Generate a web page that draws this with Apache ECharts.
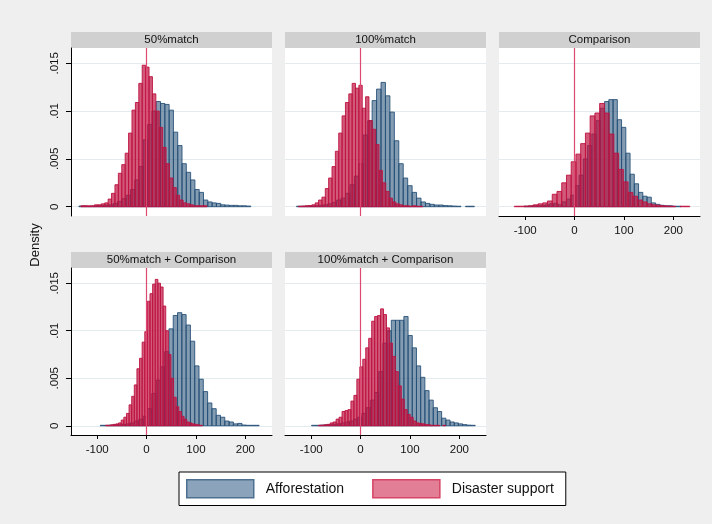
<!DOCTYPE html>
<html><head><meta charset="utf-8">
<script src="https://cdn.jsdelivr.net/npm/echarts@6/dist/echarts.min.js"></script>
<style>html,body{margin:0;padding:0;background:#efefef}#c{width:712px;height:524px}</style>
</head><body><div id="c"></div>
<script>
// ---------- data ----------
const panelTitles = ['50%match', '100%match', 'Comparison', '50%match + Comparison', '100%match + Comparison'];
const seriesNames = ['Afforestation', 'Disaster support'];
const xTickValues = [-100, 0, 100, 200];
const yTickValues = [0, 0.005, 0.01, 0.015];
const refLineX = 0;

// Afforestation histograms: first bin start, bin width, densities
const affStart = [-137, -129.6, -102.6, -93.9, -99.3];
const affWidth = [8.7, 9.0, 8.6, 8.7, 8.5];
const affDensity1 = [0.00007,0.00007,0.00003,0.00007,0.0001,0.00014,0.00017,0.0002,0.00035,0.00056,0.00084,0.0012,0.0018,0.0028,0.0042,0.0070,0.0086,0.0100,0.0110,0.0108,0.0107,0.0101,0.0078,0.0064,0.0045,0.0036,0.0028,0.0018,0.0015,0.0007,0.0005,0.0004,0.00035,0.0002,0.00017,0.00014,0.00014,0.0001,0.0001,0.00007];
const affDensity2 = [0.00005,0.00005,0.00007,0.00007,0.0001,0.00014,0.0002,0.0003,0.00045,0.0007,0.0009,0.0014,0.0023,0.0032,0.0045,0.0075,0.0090,0.0111,0.0123,0.0130,0.0116,0.0099,0.0069,0.0045,0.0030,0.0022,0.0015,0.0009,0.0005,0.00035,0.00025,0.00018,0.00018,0.00012,0.0001,0.00007,0.00005,0,0.00005,0.00005];
const affDensity3 = [0.00005,0.00007,0.0001,0.0001,0.00012,0.0002,0.0003,0.00035,0.0002,0.0005,0.0008,0.0012,0.0022,0.0033,0.0050,0.0064,0.0076,0.0090,0.0103,0.0110,0.0112,0.0112,0.0091,0.0083,0.0056,0.0034,0.0024,0.0015,0.0011,0.0010,0.0004,0.00025,0.00015,0.0001,0.0001,0.00005,0.00005];
const affDensity4 = [0.00005,0.00005,0.00007,0.0001,0.0001,0.00015,0.0002,0.0003,0.0005,0.0007,0.0010,0.0018,0.0034,0.0048,0.0062,0.0078,0.0102,0.0116,0.0119,0.0117,0.0106,0.0089,0.0063,0.0049,0.0036,0.0024,0.0018,0.0011,0.0009,0.0005,0.0004,0.0002,0.00025,0.00008,0.00005,0.00005,0.00005];
const affDensity5 = [0.00005,0.00005,0.00007,0.0001,0.0001,0.00015,0.0002,0.0003,0.0004,0.0005,0.0007,0.0009,0.0013,0.0019,0.0027,0.0035,0.0057,0.0087,0.0100,0.0111,0.0111,0.0111,0.0115,0.0095,0.0082,0.0063,0.0051,0.0037,0.0027,0.0019,0.0015,0.0008,0.0006,0.0004,0.0003,0.0002,0.00012,0.00007,0.00005];

// Disaster support histograms
const disStart = [-133, -125.8, -122, -83.1, -85.5];
const disWidth = [6.9, 6.8, 9.6, 5.3, 6.0];
const disDensity1 = [0.0001,0.0001,0.0001,0.0001,0.0002,0.0002,0.0003,0.0004,0.0008,0.0014,0.0023,0.0035,0.0044,0.0056,0.0077,0.0101,0.0109,0.0129,0.0148,0.0146,0.0136,0.0118,0.0100,0.0083,0.0062,0.0045,0.0030,0.0020,0.0012,0.0007,0.0004,0.0003,0.0002,0.0001,0.0001,0.0001,0.0001];
const disDensity2 = [0.00005,0.00007,0.0001,0.00012,0.0002,0.0004,0.0007,0.001,0.0019,0.0030,0.0042,0.0058,0.0077,0.0095,0.0109,0.0118,0.0129,0.0124,0.0127,0.0103,0.0115,0.0090,0.0081,0.0065,0.0038,0.0025,0.0016,0.0009,0.0005,0.0003,0.0002,0.0001,0.0001,0.00005,0.0001,0.00005,0.00005];
const disDensity3 = [0.00005,0.00005,0.00007,0.0001,0.0002,0.0003,0.0004,0.0006,0.0013,0.0016,0.0025,0.0033,0.0047,0.0055,0.0066,0.0077,0.0095,0.0098,0.0108,0.0098,0.0076,0.0056,0.0039,0.0026,0.0015,0.0011,0.0007,0.0005,0.0003,0.0002,0.00015,0.0001,0.00007,0.00005,0,0.00005,0.00005];
const disDensity4 = [0.00005,0.00005,0.0001,0.00015,0.0002,0.0003,0.0006,0.0009,0.0013,0.0022,0.0031,0.0043,0.0060,0.0071,0.0088,0.0099,0.0131,0.0139,0.0149,0.0154,0.0150,0.0146,0.0126,0.0100,0.0075,0.0050,0.0030,0.0020,0.0015,0.0010,0.0007,0.0004,0.0003,0.0002,0.00015,0.0001,0.00005];
const disDensity5 = [0.00005,0.00007,0.0001,0.00015,0.0003,0.0004,0.0007,0.0009,0.0015,0.0016,0.0017,0.0026,0.0032,0.0049,0.0062,0.0070,0.0082,0.0092,0.0110,0.0115,0.0116,0.0123,0.0117,0.0103,0.0087,0.0073,0.0057,0.0042,0.0028,0.0017,0.0012,0.0009,0.0005,0.0003,0.00025,0.0002,0.00012,0.0001,0.00005,0.00005,0.00005,0,0.00005];

const affDensity = [affDensity1, affDensity2, affDensity3, affDensity4, affDensity5];
const disDensity = [disDensity1, disDensity2, disDensity3, disDensity4, disDensity5];

// ---------- layout / style ----------
const FONT = 'Liberation Sans, Arial, Helvetica, sans-serif';
const colLeft = [71, 285, 499];
const rowTop = [48, 268];
const rowHeight = [168, 167];
const panelWidth = 201;
const panelPos = [[0, 0], [1, 0], [2, 0], [0, 1], [1, 1]]; // [col,row]
const showXAxis = [false, false, true, true, true];
const showYAxis = [true, false, false, true, false];
const X_MIN = -153, X_MAX = 254, Y_MIN = -0.00097, Y_MAX = 0.0166;

const blueFill = 'rgba(35,78,118,0.56)', blueStroke = 'rgba(35,78,118,0.86)';
const redFill = 'rgba(190,18,64,0.70)', redStroke = 'rgba(190,18,64,0.90)';
const legendBlueFill = '#8ca4bb', legendBlueStroke = '#4e7090';
const legendRedFill = '#e27f97', legendRedStroke = '#d64466';

function toBins(start, width, dens) {
  return dens.map((d, i) => [start + i * width, start + (i + 1) * width, d]);
}
function makeRender(fill, stroke) {
  return function (params, api) {
    const h = api.value(2);
    if (!(h > 0)) return null;
    const a = api.coord([api.value(0), 0]);
    const b = api.coord([api.value(1), h]);
    return { type: 'rect', shape: { x: a[0], y: b[1], width: b[0] - a[0], height: a[1] - b[1] },
             style: { fill: fill, stroke: stroke, lineWidth: 1 } };
  };
}

const grids = [], xAxes = [], yAxes = [], series = [], graphics = [];
panelTitles.forEach((title, p) => {
  const [c, r] = panelPos[p];
  const left = colLeft[c], top = rowTop[r], height = rowHeight[r];
  grids.push({ left: left, top: top, width: panelWidth, height: height, show: true,
               backgroundColor: '#ffffff', borderWidth: 0, containLabel: false });
  xAxes.push({
    gridIndex: p, type: 'value', min: X_MIN, max: X_MAX,
    axisLine: { show: showXAxis[p], onZero: false, lineStyle: { color: '#000', width: 1 } },
    axisTick: { show: showXAxis[p], length: 4, customValues: xTickValues, lineStyle: { color: '#000' } },
    axisLabel: { show: showXAxis[p], customValues: xTickValues, color: '#111', fontSize: 11.5, fontFamily: FONT, margin: 9 },
    splitLine: { show: false }
  });
  yAxes.push({
    gridIndex: p, type: 'value', min: Y_MIN, max: Y_MAX,
    axisLine: { show: showYAxis[p], onZero: false, lineStyle: { color: '#000', width: 1 } },
    axisTick: { show: showYAxis[p], length: 5, customValues: yTickValues, lineStyle: { color: '#000' } },
    axisLabel: { show: showYAxis[p], customValues: yTickValues, rotate: 90, color: '#111', fontSize: 11.5,
                 fontFamily: FONT, margin: 10,
                 formatter: v => (v === 0 ? '0' : String(+v.toFixed(4)).replace(/^0/, '')) },
    splitLine: { show: true, lineStyle: { color: '#e3ebee', width: 1 } }
  });
  series.push({
    type: 'custom', name: seriesNames[0], xAxisIndex: p, yAxisIndex: p, z: 2,
    itemStyle: { color: legendBlueFill, borderColor: legendBlueStroke },
    encode: { x: [0, 1], y: 2 },
    renderItem: makeRender(blueFill, blueStroke),
    data: toBins(affStart[p], affWidth[p], affDensity[p])
  });
  series.push({
    type: 'custom', name: seriesNames[1], xAxisIndex: p, yAxisIndex: p, z: 3,
    itemStyle: { color: legendRedFill, borderColor: legendRedStroke },
    encode: { x: [0, 1], y: 2 },
    renderItem: makeRender(redFill, redStroke),
    data: toBins(disStart[p], disWidth[p], disDensity[p]),
    markLine: { silent: true, symbol: 'none', animation: false, label: { show: false },
                lineStyle: { color: '#dc4a74', width: 1.2, type: 'solid', opacity: 1 },
                data: [{ xAxis: refLineX }] }
  });
  graphics.push({ type: 'rect', left: left, top: top - 16, shape: { width: panelWidth, height: 16 },
                  style: { fill: '#d0d0d0' }, silent: true });
  graphics.push({ type: 'text', x: left + panelWidth / 2, y: top - 8,
                  style: { text: title, fill: '#111', font: '11.5px ' + FONT, align: 'center', verticalAlign: 'middle' } });
});
graphics.push({ type: 'text', x: 35, y: 245, rotation: Math.PI / 2,
                style: { text: 'Density', fill: '#111', font: '13px ' + FONT, align: 'center', verticalAlign: 'middle' } });

const chart = echarts.init(document.getElementById('c'), null, { renderer: 'canvas' });
chart.setOption({
  backgroundColor: '#efefef',
  animation: false,
  grid: grids, xAxis: xAxes, yAxis: yAxes, series: series, graphic: graphics,
  legend: {
    left: 179, top: 472, orient: 'horizontal', icon: 'rect',
    itemWidth: 67, itemHeight: 18, itemGap: 28,
    padding: [7, 12, 7, 7], backgroundColor: '#fff', borderColor: '#000', borderWidth: 1,
    textStyle: { fontSize: 14, fontFamily: FONT, color: '#111', padding: [0, 0, 0, 7] },
    selectedMode: false,
    data: [
      { name: seriesNames[0], itemStyle: { color: legendBlueFill, borderColor: legendBlueStroke, borderWidth: 1.5 } },
      { name: seriesNames[1], itemStyle: { color: legendRedFill, borderColor: legendRedStroke, borderWidth: 1.5 } }
    ]
  }
});
</script></body></html>
